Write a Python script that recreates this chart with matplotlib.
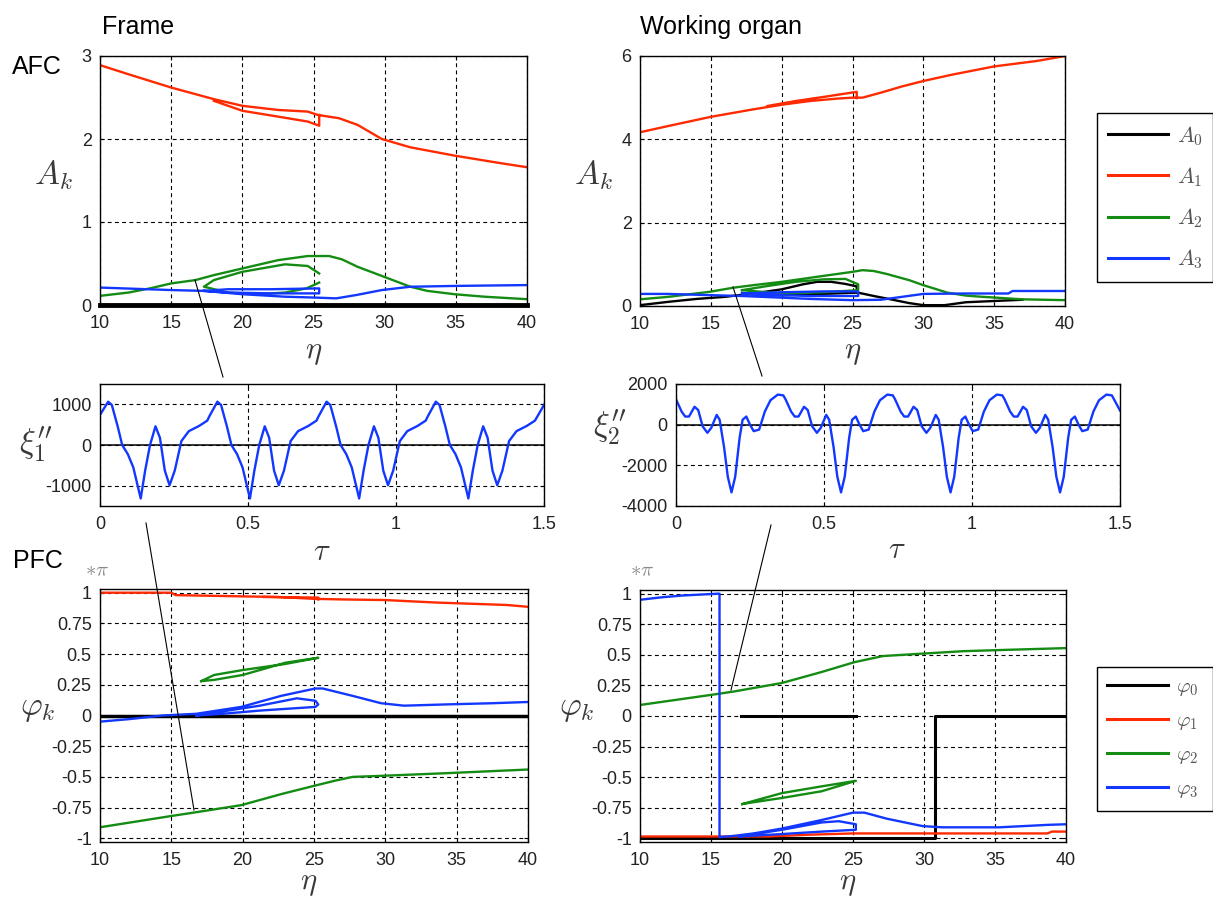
import numpy as np
import matplotlib
matplotlib.use("Agg")
import matplotlib.pyplot as plt
from matplotlib.lines import Line2D

nan = np.nan

# ---------- AFC, frame (top left) ----------
tl_a0_eta = [10, 40]
tl_a0 = [0.0, 0.0]
tl_a1_eta = [10, 12, 15, 18, 20, 22.5, 24.6, 25.3, 26.8, 28.1, 29.8, 31.8, 34.9, 38.1, 40,
             nan, 18, 20, 22.5, 24.6, 25.4, 25.4]
tl_a1 = [2.89, 2.78, 2.62, 2.48, 2.40, 2.35, 2.33, 2.29, 2.25, 2.17, 2.00, 1.90, 1.80, 1.71, 1.66,
         nan, 2.46, 2.34, 2.27, 2.21, 2.16, 2.29]
tl_a2_eta = [10, 12, 13.5, 15, 16.7, 18, 20, 22.5, 24.6, 26.1, 27, 28.1, 29.8, 31.8, 33, 34.9, 37, 40,
             nan, 25.4, 24.6, 23, 20, 18, 17.3, 19, 21, 23, 24.5, 25.4]
tl_a2 = [0.11, 0.15, 0.20, 0.26, 0.30, 0.36, 0.44, 0.54, 0.59, 0.59, 0.55, 0.46, 0.35, 0.22, 0.17, 0.13, 0.10, 0.07,
         nan, 0.38, 0.47, 0.49, 0.40, 0.30, 0.22, 0.15, 0.13, 0.15, 0.20, 0.27]
tl_a3_eta = [10, 15, 17.3, 20, 23, 25, 26.6, 28, 29.8, 31.8, 35, 40,
             nan, 17.3, 19, 22, 25.4, 25.4, 22, 19, 17.3]
tl_a3 = [0.21, 0.18, 0.17, 0.13, 0.10, 0.09, 0.08, 0.12, 0.18, 0.22, 0.23, 0.24,
         nan, 0.17, 0.19, 0.19, 0.20, 0.14, 0.14, 0.15, 0.17]

# ---------- AFC, working organ (top right) ----------
tr_a0_eta = [10, 12, 14, 16, 18, 20, 21.5, 22.5, 23.5, 24.5, 25.3, 25.3, 22, 20, 18,
             nan, 25.4, 26.5, 27.4, 29, 30, 31.5, 33, 35, 37]
tr_a0 = [0.02, 0.10, 0.17, 0.22, 0.30, 0.40, 0.52, 0.58, 0.58, 0.53, 0.47, 0.32, 0.28, 0.26, 0.28,
         nan, 0.32, 0.24, 0.18, 0.07, 0.02, 0.02, 0.09, 0.12, 0.15]
tr_a1_eta = [10, 12, 15, 18, 20, 22, 24, 25, 25.7, 27, 28.5, 30, 32, 35, 38, 40,
             nan, 19, 21, 23, 25.3, 25.3]
tr_a1 = [4.17, 4.32, 4.54, 4.72, 4.83, 4.92, 4.98, 5.00, 5.00, 5.12, 5.27, 5.40, 5.55, 5.75, 5.88, 6.0,
         nan, 4.80, 4.92, 5.02, 5.14, 4.99]
tr_a2_eta = [10, 12, 14.9, 16.6, 18, 20, 22.9, 25, 25.7, 26.5, 27.4, 29, 30, 31.7, 33, 34.2, 37, 40,
             nan, 17.2, 19, 21, 23, 24.5, 25.4, 25.4, 23, 20, 17.2]
tr_a2 = [0.16, 0.22, 0.34, 0.44, 0.50, 0.58, 0.72, 0.82, 0.86, 0.84, 0.77, 0.62, 0.50, 0.32, 0.25, 0.22, 0.16, 0.14,
         nan, 0.38, 0.48, 0.58, 0.64, 0.65, 0.52, 0.38, 0.33, 0.30, 0.38]
tr_a3_eta = [10, 12, 15, 17.2, 20, 22, 25, 27, 28.5, 30, 32.8, 36, 36.3, 40,
             nan, 17.2, 20, 23, 25.4, 25.4, 22, 19, 17.2]
tr_a3 = [0.29, 0.29, 0.26, 0.24, 0.20, 0.17, 0.14, 0.15, 0.22, 0.29, 0.30, 0.30, 0.36, 0.36,
         nan, 0.30, 0.33, 0.35, 0.35, 0.24, 0.24, 0.27, 0.30]

# ---------- accelerations (middle) ----------
xi1_tau = [0.000, 0.0275, 0.040, 0.060, 0.075, 0.094, 0.1125, 0.1375, 0.1525, 0.169, 0.1875, 0.2025, 0.219, 0.235, 0.2525, 0.275, 0.300, 0.335, 0.3625,
           0.369, 0.3965, 0.409, 0.429, 0.444, 0.463, 0.4815, 0.5065, 0.5215, 0.538, 0.5565, 0.5715, 0.588, 0.604, 0.6215, 0.644, 0.669, 0.704, 0.7315,
           0.738, 0.7655, 0.778, 0.798, 0.813, 0.832, 0.8505, 0.8755, 0.8905, 0.907, 0.9255, 0.9405, 0.957, 0.973, 0.9905, 1.013, 1.038, 1.073, 1.1005,
           1.107, 1.1345, 1.147, 1.167, 1.182, 1.201, 1.2195, 1.2445, 1.2595, 1.276, 1.2945, 1.3095, 1.326, 1.342, 1.3595, 1.382, 1.407, 1.442, 1.4695,
           1.5]
xi1 = [740, 1065, 985, 450, 0, -225, -550, -1315, -630, 0, 460, 177, -630, -990, -630, 97, 340, 470, 600,
       700, 1065, 985, 450, 0, -225, -550, -1315, -630, 0, 460, 177, -630, -990, -630, 97, 340, 470, 600,
       700, 1065, 985, 450, 0, -225, -550, -1315, -630, 0, 460, 177, -630, -990, -630, 97, 340, 470, 600,
       700, 1065, 985, 450, 0, -225, -550, -1315, -630, 0, 460, 177, -630, -990, -630, 97, 340, 470, 600,
       985]
xi2_tau = [0.000, 0.019, 0.031, 0.044, 0.0625, 0.075, 0.090, 0.106, 0.119, 0.1375, 0.1475, 0.1625, 0.175, 0.1875, 0.200, 0.215, 0.225, 0.2375, 0.250, 0.2625, 0.281, 0.300, 0.319, 0.344, 0.3625,
           0.370, 0.389, 0.401, 0.414, 0.4325, 0.445, 0.460, 0.476, 0.489, 0.5075, 0.5175, 0.5325, 0.545, 0.5575, 0.570, 0.585, 0.595, 0.6075, 0.620, 0.6325, 0.651, 0.670, 0.689, 0.714, 0.7325,
           0.740, 0.759, 0.771, 0.784, 0.8025, 0.815, 0.830, 0.846, 0.859, 0.8775, 0.8875, 0.9025, 0.915, 0.9275, 0.940, 0.955, 0.965, 0.9775, 0.990, 1.0025, 1.021, 1.040, 1.059, 1.084, 1.1025,
           1.110, 1.129, 1.141, 1.154, 1.1725, 1.185, 1.200, 1.216, 1.229, 1.2475, 1.2575, 1.2725, 1.285, 1.2975, 1.310, 1.325, 1.335, 1.3475, 1.360, 1.3725, 1.391, 1.410, 1.429, 1.454, 1.4725,
           1.5]
xi2 = [1250, 640, 400, 400, 880, 720, -80, -400, -160, 480, 240, -1120, -2560, -3330, -2560, -640, 240, 400, 0, -320, -240, 640, 1200, 1480, 1440,
       1250, 640, 400, 400, 880, 720, -80, -400, -160, 480, 240, -1120, -2560, -3330, -2560, -640, 240, 400, 0, -320, -240, 640, 1200, 1480, 1440,
       1250, 640, 400, 400, 880, 720, -80, -400, -160, 480, 240, -1120, -2560, -3330, -2560, -640, 240, 400, 0, -320, -240, 640, 1200, 1480, 1440,
       1250, 640, 400, 400, 880, 720, -80, -400, -160, 480, 240, -1120, -2560, -3330, -2560, -640, 240, 400, 0, -320, -240, 640, 1200, 1480, 1440,
       700]

# ---------- PFC, frame (bottom left), in units of pi ----------
bl_p0_eta = [10, 40]
bl_p0 = [0.0, 0.0]
bl_p1_eta = [10, 15, 15.3, 20, 22.5, 25, 27, 30, 33.5, 36, 38.5, 40,
             nan, 21.5, 25.3, 25.3]
bl_p1 = [1.0, 1.0, 0.98, 0.97, 0.965, 0.95, 0.945, 0.94, 0.92, 0.91, 0.90, 0.885,
         nan, 0.965, 0.96, 0.945]
bl_p2_eta = [10, 14.9, 16.6, 19.9, 22.7, 25.1, 26.5, 27.7, 30, 34.2, 40,
             nan, 17.1, 18, 20, 23, 25.3, 23, 20, 18, 17.1]
bl_p2 = [-0.91, -0.82, -0.79, -0.73, -0.64, -0.57, -0.53, -0.50, -0.49, -0.47, -0.44,
         nan, 0.28, 0.33, 0.37, 0.42, 0.47, 0.43, 0.33, 0.29, 0.28]
bl_p3_eta = [10, 12, 14.4, 16.75, 19.9, 22.7, 25.1, 25.6, 27.7, 29.7, 31.3, 34.2, 37.5, 40,
             nan, 16.75, 21.2, 23.8, 25.1, 25.3, 25.1, 21.2, 18.6, 16.75]
bl_p3 = [-0.05, -0.03, 0.0, 0.014, 0.07, 0.16, 0.22, 0.22, 0.16, 0.10, 0.08, 0.09, 0.10, 0.11,
         nan, 0.0, 0.08, 0.14, 0.12, 0.09, 0.07, 0.04, 0.014, 0.0]

# ---------- PFC, working organ (bottom right) ----------
br_p0_eta = [17.1, 25.2, nan, 10, 30.75, 30.75, 40]
br_p0 = [0.0, 0.0, nan, -0.995, -0.995, 0.0, 0.0]
br_p1_eta = [10, 19, 22, 25, 30, 35, 38.7, 39, 40]
br_p1 = [-0.985, -0.985, -0.97, -0.96, -0.96, -0.96, -0.96, -0.945, -0.945]
br_p2_eta = [10, 15.45, 16.6, 20, 22.8, 25.1, 27.1, 29.9, 32.8, 35.6, 40,
             nan, 17.2, 20, 22.8, 25.2, 22.8, 20, 17.7, 17.2]
br_p2 = [0.09, 0.18, 0.20, 0.27, 0.36, 0.44, 0.49, 0.51, 0.53, 0.54, 0.555,
         nan, -0.72, -0.63, -0.575, -0.53, -0.615, -0.67, -0.71, -0.72]
br_p3_eta = [10, 11.5, 13, 15.5, 15.6, 15.6, 16.6, 18, 20, 22.8, 25, 25.8, 27.4, 29.9, 31.3, 35.3, 38.7, 40,
             nan, 17, 20, 22.8, 24, 25.2, 25.2, 22.8, 20, 17]
br_p3 = [0.95, 0.97, 0.985, 1.0, 1.0, -0.99, -0.98, -0.96, -0.92, -0.85, -0.79, -0.79, -0.84, -0.90, -0.91, -0.91, -0.89, -0.885,
         nan, -0.985, -0.93, -0.87, -0.86, -0.885, -0.93, -0.945, -0.965, -0.985]

eta_ticks = [10, 15, 20, 25, 30, 35, 40]
phi_ticks = [-1, -0.75, -0.5, -0.25, 0, 0.25, 0.5, 0.75, 1]
phi_labels = ["-1", "-0.75", "-0.5", "-0.25", "0", "0.25", "0.5", "0.75", "1"]
tau_ticks = [0, 0.5, 1, 1.5]
tau_labels = ["0", "0.5", "1", "1.5"]

colors = ["black", "#ff2a00", "#148c14", "#1238ff"]

plt.rcParams["font.family"] = ["Liberation Sans", "DejaVu Sans"]
plt.rcParams["mathtext.fontset"] = "cm"
plt.rcParams["axes.unicode_minus"] = False

W, H = 1213, 898
fig = plt.figure(figsize=(W / 100, H / 100), dpi=100)


def px_axes(x0, y0, x1, y1):
    # pixel box (left, top, right, bottom) -> figure axes
    return fig.add_axes([x0 / W, 1 - y1 / H, (x1 - x0) / W, (y1 - y0) / H])


def px(x, y):
    return x / W, 1 - y / H


def style(ax, xlim, ylim, xticks, yticks, xlabels=None, ylabels=None):
    ax.set_xlim(xlim)
    ax.set_ylim(ylim)
    ax.set_xticks(xticks)
    ax.set_yticks(yticks)
    if xlabels is not None:
        ax.set_xticklabels(xlabels)
    if ylabels is not None:
        ax.set_yticklabels(ylabels)
    ax.grid(True, color="black", linestyle=(0, (3.5, 3)), linewidth=0.8)
    ax.tick_params(direction="in", length=3, width=0.8, labelsize=13,
                   labelcolor="#222222", top=True, right=True)
    ax.tick_params(axis="x", pad=7)
    ax.tick_params(axis="y", pad=6)
    for s in ax.spines.values():
        s.set_linewidth(1.0)
        s.set_color("black")


lw = 1.7

# top left
ax1 = px_axes(100, 56, 527, 305)
style(ax1, (10, 40), (0, 3), eta_ticks, [0, 1, 2, 3])
ax1.plot(tl_a0_eta, tl_a0, color=colors[0], lw=3.5, clip_on=False, zorder=3)
ax1.plot(tl_a1_eta, tl_a1, color=colors[1], lw=lw)
ax1.plot(tl_a2_eta, tl_a2, color=colors[2], lw=lw)
ax1.plot(tl_a3_eta, tl_a3, color=colors[3], lw=lw)

# top right
ax2 = px_axes(640, 56, 1065, 306)
style(ax2, (10, 40), (0, 6), eta_ticks, [0, 2, 4, 6])
la0, = ax2.plot(tr_a0_eta, tr_a0, color=colors[0], lw=lw)
la1, = ax2.plot(tr_a1_eta, tr_a1, color=colors[1], lw=lw)
la2, = ax2.plot(tr_a2_eta, tr_a2, color=colors[2], lw=lw)
la3, = ax2.plot(tr_a3_eta, tr_a3, color=colors[3], lw=lw)

# middle left
ax3 = px_axes(100, 384, 544, 506)
style(ax3, (0, 1.5), (-1500, 1500), tau_ticks, [-1000, 0, 1000], tau_labels)
ax3.axhline(0, color="black", lw=1.1)
ax3.plot(xi1_tau, xi1, color=colors[3], lw=lw)

# middle right
ax4 = px_axes(676, 384, 1120, 506)
style(ax4, (0, 1.5), (-4000, 2000), tau_ticks, [-4000, -2000, 0, 2000], tau_labels)
ax4.axhline(0, color="black", lw=1.1)
ax4.plot(xi2_tau, xi2, color=colors[3], lw=lw)

# bottom left
ax5 = px_axes(100, 589, 528, 842)
style(ax5, (10, 40), (-1.03, 1.03), eta_ticks, phi_ticks, ylabels=phi_labels)
ax5.plot(bl_p0_eta, bl_p0, color=colors[0], lw=2.5)
ax5.plot(bl_p1_eta, bl_p1, color=colors[1], lw=lw)
ax5.plot(bl_p2_eta, bl_p2, color=colors[2], lw=lw)
ax5.plot(bl_p3_eta, bl_p3, color=colors[3], lw=lw)

# bottom right
ax6 = px_axes(640, 590, 1066, 842)
style(ax6, (10, 40), (-1.03, 1.03), eta_ticks, phi_ticks, ylabels=phi_labels)
lp0, = ax6.plot(br_p0_eta, br_p0, color=colors[0], lw=2.2)
lp1, = ax6.plot(br_p1_eta, br_p1, color=colors[1], lw=lw)
lp2, = ax6.plot(br_p2_eta, br_p2, color=colors[2], lw=lw)
lp3, = ax6.plot(br_p3_eta, br_p3, color=colors[3], lw=lw)

# headers
fig.text(*px(102, 27), "Frame", fontsize=18, va="center", ha="left")
fig.text(*px(640, 27), "Working organ", fontsize=18, va="center", ha="left")
fig.text(*px(12, 67), "AFC", fontsize=18, va="center", ha="left")
fig.text(*px(13, 561), "PFC", fontsize=18, va="center", ha="left")

mc = "#3a3a3a"
fig.text(*px(53, 175), r"$A_k$", fontsize=24, color=mc, ha="center", va="center")
fig.text(*px(593, 175), r"$A_k$", fontsize=24, color=mc, ha="center", va="center")
fig.text(*px(36, 445), r"$\xi_1''$", fontsize=24, color=mc, ha="center", va="center")
fig.text(*px(610, 428), r"$\xi_2''$", fontsize=24, color=mc, ha="center", va="center")
fig.text(*px(38, 708), r"$\varphi_k$", fontsize=24, color=mc, ha="center", va="center")
fig.text(*px(577, 708), r"$\varphi_k$", fontsize=24, color=mc, ha="center", va="center")
fig.text(*px(322, 552), r"$\tau$", fontsize=22, color=mc, ha="center", va="center")
fig.text(*px(897, 550), r"$\tau$", fontsize=22, color=mc, ha="center", va="center")
for x, y in [(314, 352), (853, 352), (309, 883), (848, 883)]:
    fig.text(*px(x, y), r"$\eta$", fontsize=22, color=mc, ha="center", va="center")
fig.text(*px(97, 571), r"$\ast\pi$", fontsize=15, color="#8a8a8a", ha="center", va="center")
fig.text(*px(642, 571), r"$\ast\pi$", fontsize=15, color="#8a8a8a", ha="center", va="center")

# leader lines from the spectra to the time histories
for (xa, ya), (xb, yb) in [((195, 280), (223, 377)), ((146, 523), (194, 810)),
                           ((733, 287), (762, 376)), ((771, 525), (731, 690))]:
    fig.add_artist(Line2D([xa / W, xb / W], [1 - ya / H, 1 - yb / H],
                          color="black", lw=0.8, transform=fig.transFigure))

# legends
leg1 = fig.legend([la0, la1, la2, la3], [r"$A_0$", r"$A_1$", r"$A_2$", r"$A_3$"],
                  loc="upper left", bbox_to_anchor=(1097 / W, 1 - 113 / H, 116 / W, 0.0),
                  mode="expand", fontsize=16, labelspacing=0.78, handlelength=2.7,
                  handletextpad=0.4, borderpad=0.5, borderaxespad=0,
                  fancybox=False, framealpha=1, edgecolor="black")
leg2 = fig.legend([lp0, lp1, lp2, lp3], [r"$\varphi_0$", r"$\varphi_1$", r"$\varphi_2$", r"$\varphi_3$"],
                  loc="upper left", bbox_to_anchor=(1097 / W, 1 - 667 / H, 116 / W, 0.0),
                  mode="expand", fontsize=15, labelspacing=0.62, handlelength=2.9,
                  handletextpad=0.4, borderpad=0.5, borderaxespad=0,
                  fancybox=False, framealpha=1, edgecolor="black")
for leg in (leg1, leg2):
    leg.get_frame().set_linewidth(1.0)
    for t in leg.get_texts():
        t.set_color("#555555")
    for h in leg.legend_handles:
        h.set_linewidth(2.2)

fig.savefig("out.png", dpi=100)
